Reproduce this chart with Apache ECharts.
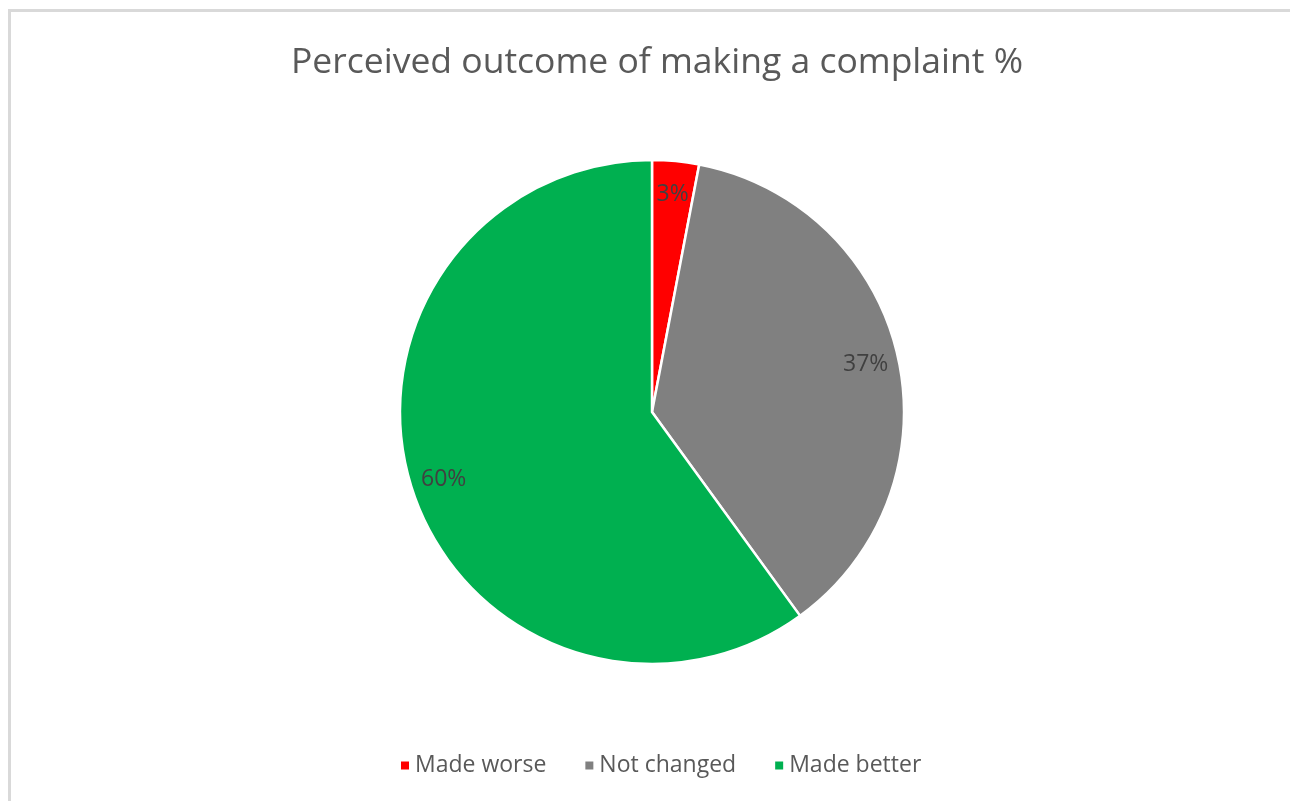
<!DOCTYPE html>
<html>
<head>
<meta charset="utf-8">
<script src="https://cdn.jsdelivr.net/npm/echarts@6/dist/echarts.min.js"></script>
<style>
	html, body { margin: 0; padding: 0; background: #fff; overflow: hidden; }
	#frame { position: absolute; left: 8px; top: 9px; width: 1300px; height: 820px; border-left: 3px solid #d9d9d9; border-top: 3px solid #d9d9d9; }
	#main { position: absolute; left: 0; top: 0; width: 1290px; height: 801px; }
</style>
</head>
<body>
<div id="frame"></div>
<div id="main"></div>
<script>
var categories = ['Made worse', 'Not changed', 'Made better'];
var values = [3, 37, 60];
var colors = ['#ff0000', '#808080', '#00b050'];

var myChart = echarts.init(document.getElementById('main'));

var slices = categories.map(function(c, i){
	return {name: c, value: values[i], itemStyle: {color: colors[i]}};
});
var labelSlices = categories.map(function(c, i){
	return {name: c, value: values[i]};
});

var option = {
	animation: false,
	title: {
		text: 'Perceived outcome of making a complaint %',
		left: 652, top: 40, textAlign: 'center',
		textStyle: {fontFamily: 'Open Sans', fontSize: 35.5, fontWeight: 'normal', color: '#595959'}
	},
	legend: {
		data: categories,
		left: 394, top: 749,
		itemWidth: 10, itemHeight: 10, itemGap: 37,
		icon: 'rect',
		textStyle: {fontFamily: 'Open Sans', fontSize: 23, color: '#595959'}
	},
	series: [
		{
			name: 'outcome',
			type: 'pie',
			center: [652, 412],
			radius: [0, 252],
			startAngle: 90,
			clockwise: true,
			itemStyle: {borderColor: '#fff', borderWidth: 2.5},
			label: {show: false},
			labelLine: {show: false},
			emphasis: {disabled: true},
			data: slices
		},
		{
			name: 'labels',
			type: 'pie',
			silent: true,
			center: [652, 412],
			radius: [180, 252],
			startAngle: 90,
			clockwise: true,
			itemStyle: {color: 'transparent', borderWidth: 0},
			label: {
				show: true, position: 'inside',
				formatter: '{c}%',
				fontFamily: 'Open Sans', fontSize: 23, color: '#404040'
			},
			labelLine: {show: false},
			emphasis: {disabled: true},
			data: labelSlices
		}
	]
};
myChart.setOption(option);
</script>
</body>
</html>
